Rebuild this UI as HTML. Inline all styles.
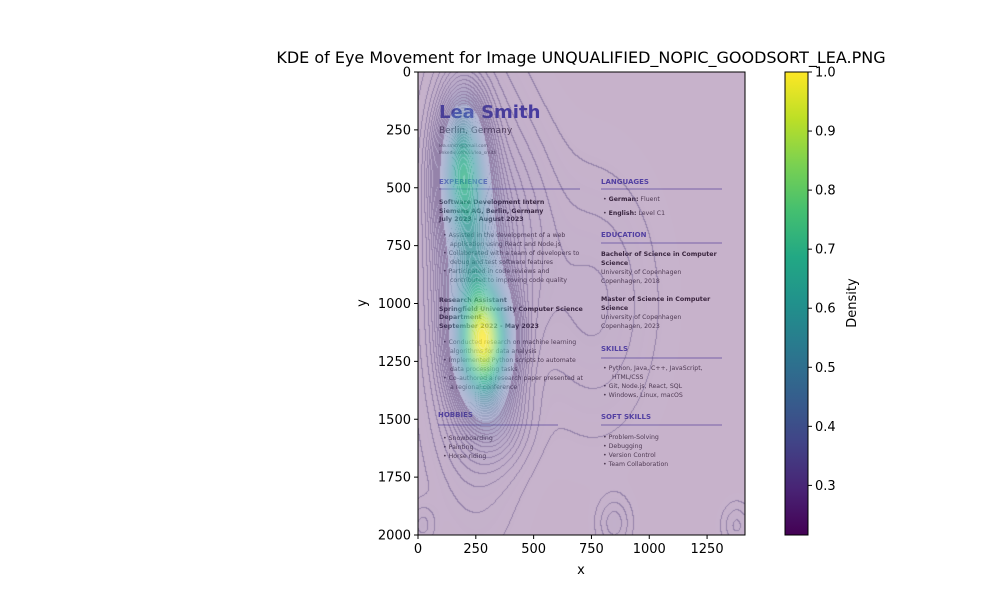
<!DOCTYPE html>
<html><head><meta charset="utf-8"><style>
body{margin:0;background:#fff;width:1000px;height:600px;overflow:hidden;font-family:"DejaVu Sans","Liberation Sans",sans-serif}
#wrap{position:relative;width:1000px;height:600px}
svg,canvas{position:absolute;left:0;top:0}
.r{font-family:"DejaVu Sans","Liberation Sans",sans-serif;fill:#555}
.h{fill:#5a5cc4;font-weight:bold;font-size:7px}
.b{fill:#333;font-weight:bold;font-size:6.3px}
.t{font-size:6.2px;fill:#555}
</style></head><body><div id="wrap">
<svg width="1000" height="600">
<rect x="418" y="72" width="327" height="463" fill="#fff"/>
<g class="r">
<text x="439" y="118" font-size="18" font-weight="bold" fill="#4a55c0">Lea Smith</text>
<text x="439" y="133" font-size="9" fill="#555">Berlin, Germany</text>
<text x="439" y="147" font-size="4.5">lea.smith@gmail.com</text>
<text x="439" y="154" font-size="4.5">linkedin.com/in/lea_smith</text>
<text x="439" y="184" class="h">EXPERIENCE</text>
<line x1="439" y1="189" x2="580" y2="189" stroke="#6a6ac0" stroke-width="0.8"/>
<text x="439" y="204" class="b">Software Development Intern</text>
<text x="439" y="213" class="b">Siemens AG, Berlin, Germany</text>
<text x="439" y="221" class="b">July 2023 - August 2023</text>
<g class="t">
<text x="443" y="237">•  Assisted in the development of a web</text><text x="450" y="246">application using React and Node.js</text>
<text x="443" y="255">•  Collaborated with a team of developers to</text><text x="450" y="264">debug and test software features</text>
<text x="443" y="273">•  Participated in code reviews and</text><text x="450" y="282">contributed to improving code quality</text></g>
<text x="439" y="302" class="b">Research Assistant</text>
<text x="439" y="311" class="b">Springfield University Computer Science</text>
<text x="439" y="319" class="b">Department</text>
<text x="439" y="328" class="b">September 2022 - May 2023</text>
<g class="t">
<text x="443" y="344">•  Conducted research on machine learning</text><text x="450" y="353">algorithms for data analysis</text>
<text x="443" y="362">•  Implemented Python scripts to automate</text><text x="450" y="371">data processing tasks</text>
<text x="443" y="380">•  Co-authored a research paper presented at</text><text x="450" y="389">a regional conference</text></g>
<text x="438" y="417" class="h">HOBBIES</text>
<line x1="438" y1="425" x2="558" y2="425" stroke="#6a6ac0" stroke-width="0.8"/>
<g class="t"><text x="443" y="440">•  Snowboarding</text><text x="443" y="449">•  Painting</text><text x="443" y="458">•  Horse riding</text></g>
<text x="601" y="184" class="h">LANGUAGES</text>
<line x1="601" y1="189" x2="722" y2="189" stroke="#6a6ac0" stroke-width="0.8"/>
<g class="t"><text x="603" y="201">•  <tspan font-weight="bold" fill="#333">German:</tspan> Fluent</text><text x="603" y="215">•  <tspan font-weight="bold" fill="#333">English:</tspan> Level C1</text></g>
<text x="601" y="237" class="h">EDUCATION</text>
<line x1="601" y1="243" x2="722" y2="243" stroke="#6a6ac0" stroke-width="0.8"/>
<g class="t">
<text x="601" y="256" class="b">Bachelor of Science in Computer</text><text x="601" y="265" class="b">Science</text>
<text x="601" y="274">University of Copenhagen</text><text x="601" y="283">Copenhagen, 2018</text>
<text x="601" y="301" class="b">Master of Science in Computer</text><text x="601" y="310" class="b">Science</text>
<text x="601" y="319">University of Copenhagen</text><text x="601" y="328">Copenhagen, 2023</text></g>
<text x="601" y="351" class="h">SKILLS</text>
<line x1="601" y1="358" x2="722" y2="358" stroke="#6a6ac0" stroke-width="0.8"/>
<g class="t"><text x="603" y="370">•  Python, Java, C++, JavaScript,</text><text x="612" y="379">HTML/CSS</text><text x="603" y="388">•  Git, Node.js, React, SQL</text><text x="603" y="397">•  Windows, Linux, macOS</text></g>
<text x="601" y="419" class="h">SOFT SKILLS</text>
<line x1="601" y1="425" x2="722" y2="425" stroke="#6a6ac0" stroke-width="0.8"/>
<g class="t"><text x="603" y="439">•  Problem-Solving</text><text x="603" y="448">•  Debugging</text><text x="603" y="457">•  Version Control</text><text x="603" y="466">•  Team Collaboration</text></g>
</g></svg>
<canvas id="kde" width="1000" height="600"></canvas>
<svg id="ax" width="1000" height="600">
<defs><linearGradient id="vir" x1="0" y1="1" x2="0" y2="0">
<stop offset="0" stop-color="#440154"/><stop offset=".1" stop-color="#482475"/><stop offset=".2" stop-color="#414487"/><stop offset=".3" stop-color="#355f8d"/><stop offset=".4" stop-color="#2a788e"/><stop offset=".5" stop-color="#21918c"/><stop offset=".6" stop-color="#22a884"/><stop offset=".7" stop-color="#44bf70"/><stop offset=".8" stop-color="#7ad151"/><stop offset=".9" stop-color="#bddf26"/><stop offset="1" stop-color="#fde725"/></linearGradient></defs>
<text x="581" y="63" font-size="16" text-anchor="middle">KDE of Eye Movement for Image UNQUALIFIED_NOPIC_GOODSORT_LEA.PNG</text>
<rect x="418" y="72" width="327" height="463" fill="none" stroke="#000" stroke-width="1"/>
<text x="581" y="574" font-size="13" text-anchor="middle">x</text>
<text x="0" y="0" font-size="13" text-anchor="middle" transform="translate(366,303) rotate(-90)">y</text>
<rect x="785" y="72" width="23" height="463" fill="url(#vir)" stroke="#000" stroke-width="1"/>
<text x="0" y="0" font-size="13" text-anchor="middle" transform="translate(856,303) rotate(-90)">Density</text>
<g id="ticks"></g>
</svg>
</div>
<script>
// KDE components (data units)
const compX=[195,285,235,250,850,20,1380,760,430,330];
const compY=[420,1170,820,900,1950,1960,1960,1000,700,1500];
const compSX=[65,75,75,120,45,40,40,160,120,90];
const compSY=[190,160,220,500,70,60,60,330,300,120];
const compW=[0.6,1.0,0.3,0.12,0.035,0.03,0.03,0.03,0.04,0.08];
const xTicks=[0,250,500,750,1000,1250];
const yTicks=[0,250,500,750,1000,1250,1500,1750,2000];
const cbTicks=[0.3,0.4,0.5,0.6,0.7,0.8,0.9,1.0];
const X0=418,X1=745,Y0=72,Y1=535,XMAX=1414,YMAX=2000,CBMIN=0.216,CBMAX=1.0;
const sx=v=>X0+v/XMAX*(X1-X0), sy=v=>Y0+v/YMAX*(Y1-Y0);
const ix=p=>(p-X0)/(X1-X0)*XMAX, iy=p=>(p-Y0)/(Y1-Y0)*YMAX;
const cby=v=>Y1-(v-CBMIN)/(CBMAX-CBMIN)*(Y1-Y0);
const vir=[[68,1,84],[72,36,117],[65,68,135],[53,95,141],[42,120,142],[33,145,140],[34,168,132],[68,191,112],[122,209,81],[189,223,38],[253,231,37]];
function cmap(t){t=Math.max(0,Math.min(1,t))*10;const i=Math.min(9,Math.floor(t)),f=t-i;return vir[i].map((c,k)=>c+(vir[i+1][k]-c)*f);}
function dens(x,y){let s=0;for(let i=0;i<compX.length;i++){const dx=(x-compX[i])/compSX[i],dy=(y-compY[i])/compSY[i];s+=compW[i]*Math.exp(-0.5*(dx*dx+dy*dy));}return s;}
const W=X1-X0,H=Y1-Y0,D=new Float32Array(W*H);let mx=0;
for(let j=0;j<H;j++)for(let i=0;i<W;i++){const v=dens(ix(X0+i+0.5),iy(Y0+j+0.5));D[j*W+i]=v;if(v>mx)mx=v;}
const ctx=document.getElementById('kde').getContext('2d');
const img=ctx.createImageData(W,H);const N=50;
const L=v=>Math.floor(Math.pow(v/mx,0.75)*N);
for(let j=0;j<H;j++)for(let i=0;i<W;i++){const d=D[j*W+i]/mx;const t=d;const c=cmap(t);const a=0.3+0.45*Math.min(1,t*2);
 let lev=L(D[j*W+i]),edge=false;
 if(i<W-1&&L(D[j*W+i+1])!==lev)edge=true;
 if(j<H-1&&L(D[(j+1)*W+i])!==lev)edge=true;
 const k=(j*W+i)*4;
 if(edge&&d<0.2){img.data[k]=75;img.data[k+1]=45;img.data[k+2]=110;img.data[k+3]=150;}
 else if(edge){img.data[k]=c[0]*0.75+60;img.data[k+1]=c[1]*0.75+60;img.data[k+2]=c[2]*0.75+70;img.data[k+3]=a*255;}
 else{img.data[k]=c[0];img.data[k+1]=c[1];img.data[k+2]=c[2];img.data[k+3]=a*255;}}
ctx.putImageData(img,X0,Y0);
const g=document.getElementById('ticks');const NS='http://www.w3.org/2000/svg';
function mk(tag,at,txt){const e=document.createElementNS(NS,tag);for(const k in at)e.setAttribute(k,at[k]);if(txt!==undefined)e.textContent=txt;g.appendChild(e);return e;}
xTicks.forEach(v=>{const x=sx(v);
 const l=mk('line',{x1:x,x2:x,y1:Y1,y2:Y1+4,stroke:'#000'});
 
 
 const t=mk('text',{x:x,y:Y1+18,'font-size':13,'text-anchor':'middle'},v);
 
 });
yTicks.forEach(v=>{const y=sy(v);
 const l=mk('line',{x1:X0-4,x2:X0,y1:y,y2:y,stroke:'#000'});
 
 
 const t=mk('text',{x:X0-7,y:y+4.5,'font-size':13,'text-anchor':'end'},v);
 
 });
cbTicks.forEach(v=>{const y=cby(v);
 const l=mk('line',{x1:808,x2:812,y1:y,y2:y,stroke:'#000'});
 
 
 const t=mk('text',{x:815,y:y+4.5,'font-size':13},v.toFixed(1));
 
 });
</script></body></html>
